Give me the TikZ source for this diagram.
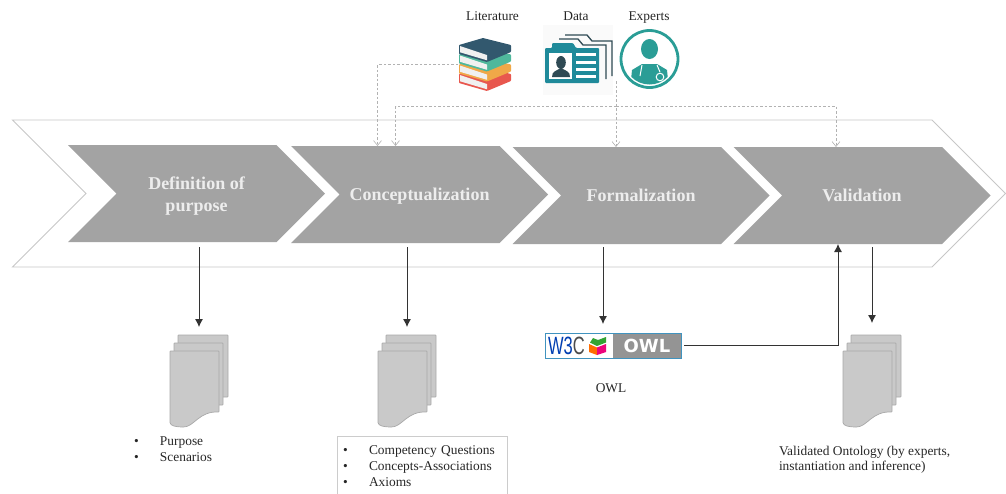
\documentclass[tikz,border=0pt]{standalone}
\usepackage{fontspec}
\setmainfont{Liberation Serif}
\newfontfamily\owlfont{DejaVu Sans}
\newfontfamily\wfont{Liberation Sans}
\usetikzlibrary{shapes,shapes.symbols,arrows.meta,calc}
\definecolor{procgray}{HTML}{A3A3A3}
\definecolor{sheetgray}{HTML}{C9C9C9}
\definecolor{sheetline}{HTML}{A8A8A8}
\definecolor{tealdark}{HTML}{1F8A9A}
\definecolor{tealdoc}{HTML}{2A9D96}
\definecolor{slate}{HTML}{2F4A54}
\definecolor{bookdark}{HTML}{32586E}
\definecolor{bookteal}{HTML}{4FB89C}
\definecolor{bookorange}{HTML}{F0A848}
\definecolor{bookred}{HTML}{E8574E}
\tikzset{
	base_n/.style = {inner sep=0pt, outer sep=0pt, align=center, font=\fontsize{13.4}{16}\selectfont, text=black!85},
	chev_n/.style = {base_n, signal, signal to=east, signal from=west, signal pointer angle=90},
	proc_n/.style = {chev_n, fill=procgray, minimum width=257pt, minimum height=97pt, text=white!93!black, text height=14pt, text depth=3pt, font=\fontsize{18}{22}\selectfont\bfseries},
	list_n/.style = {base_n, align=left},
	doc_n/.style = {base_n, minimum width=58pt, minimum height=92pt},
	icon_n/.style = {base_n},
	sheet/.style = {fill=sheetgray, draw=sheetline, line width=.7pt, rounded corners=.6pt},
	flow/.style = {draw=black!80, line width=.8pt, -{Latex[length=8pt,width=8pt]}},
	feed/.style = {draw=black!30, line width=.6pt, dash pattern=on 2.5pt off 2pt},
	feed_a/.style = {feed, -{Straight Barb[length=5pt,width=8pt,line width=.6pt]}},
	doc_stack/.pic = {
		\path[sheet] (-21,-46) rectangle (29,16);
		\path[sheet] (-25,-38) rectangle (24,24);
		\path[sheet] (-29,-30) -- (20,-30) -- (20,31) .. controls (0,30) and (-5,46) .. (-16,46)
			.. controls (-22,46) and (-29,45) .. (-29,41) -- cycle;
	},
	book/.pic = {
		\fill[#1, rounded corners=.8pt] (-26,-19.5) -- (-2,-26.5) -- (26,-19.5) -- (26,-12.5) -- (2,-2.5) -- (-26,-10.5) -- cycle;
		\fill[white!94!black] (-25,-18.5) -- (2,-9.5) -- (2,-4.2) -- (-25,-12.2) -- cycle;
	}
}
\newcommand{\listitem}[1]{\makebox[26pt][l]{\textbullet}#1}

\begin{document}
\begin{tikzpicture}[x=1pt,y=-1pt]
	\useasboundingbox (0,0) rectangle (1006,493);

	% process band
	\node [chev_n, draw=black!22, line width=.9pt, minimum width=993pt, minimum height=147pt] (band) at (509,193.5) {};
	\node [proc_n, text height=38pt] (purpose) at (196.5,193.5) {Definition of\\purpose};
	\node [proc_n] (concept) at (419.5,194.5) {Conceptualization};
	\node [proc_n] (formal) at (641,195.5) {Formalization};
	\node [proc_n] (valid) at (862,195.5) {Validation};

	% sources
	\node [base_n, anchor=base] (lit_txt) at (492.5,20) {Literature};
	\node [base_n, anchor=base] (data_txt) at (576,20) {Data};
	\node [base_n, anchor=base] (exp_txt) at (649,20) {Experts};

	\node [icon_n, minimum width=54pt, minimum height=53pt] (books) at (485,64.5) {};
	\foreach \off/\col in {29/bookred, 19.5/bookorange, 9.5/bookteal, 0/bookdark}
		\pic at ($(books)+(0,\off)$) {book=\col};

	\node [icon_n, fill=black!2, minimum width=70pt, minimum height=70pt] (data) at (578,60) {};
	\draw[slate, line width=1.3pt] (565,35) -- (587,35) -- (592,41) -- (612,41) -- (612,76);
	\draw[slate, line width=1.3pt] (559,39) -- (578,39) -- (583,45) -- (606,45) -- (606,79);
	\fill[tealdark, rounded corners=1pt] (545,48) -- (552,48) -- (552,43) -- (573,43) -- (576,48) -- (599,48) -- (599,83) -- (545,83) -- cycle;
	\fill[white] (549,53) rectangle (572,79);
	\fill[slate] (561,62.5) ellipse (4.8pt and 6.5pt);
	\fill[slate] (552,77) .. controls (552,71) and (556,71) .. (561,68) .. controls (566,71) and (570,71) .. (570,77) -- cycle;
	\foreach \ln in {53,60.5,68,75}
		\fill[white] (576,\ln) rectangle (596,\ln+3.2);

	\node [icon_n, circle, draw=tealdoc, fill=white, line width=2.8pt, minimum size=57pt] (experts) at (649.5,59) {};
	\begin{scope}
		\clip (649.5,59) circle (25.5pt);
		\fill[tealdoc] (649.5,49) ellipse (8.5pt and 10pt);
		\fill[tealdoc] (630,90) -- (632,70) -- (642,64) -- (657,64) -- (667,70) -- (669,90) -- cycle;
		\draw[white, line width=1pt] (642,65) -- (640,76) (657,65) -- (660,72);
		\draw[white, line width=1pt] (660,77) circle (3.8pt);
	\end{scope}
	\coordinate (data_out) at (616,81);
	\coordinate (fork) at (616,106);

	\draw[feed_a] (books.west) -| ([xshift=-42pt]concept.north);
	\draw[feed_a] (data_out) -- (formal.north -| data_out);
	\draw[feed_a] (fork) -| ([xshift=-24pt]concept.north);
	\draw[feed_a] (fork) -| ([xshift=-26pt]valid.north);

	% outputs
	\node [doc_n] (doc_a) at (199,381) {};
	\node [doc_n] (doc_b) at (407,381) {};
	\node [doc_n] (doc_c) at (872,381) {};
	\foreach \dc in {doc_a,doc_b,doc_c}
		\pic at (\dc) {doc_stack};

	\node [list_n, anchor=north west] (list_a) at (134,436.5) {\listitem{Purpose}\\\listitem{Scenarios}};
	\node [list_n, anchor=north west, draw=black!20, line width=.7pt, text width=170pt, minimum height=60pt] (list_b) at (337,436) {\hspace*{6pt}\listitem{Competency Questions}\\\hspace*{6pt}\listitem{Concepts-Associations}\\\hspace*{6pt}\listitem{Axioms}};
	\node [list_n, anchor=north west, font=\fontsize{13.4}{15}\selectfont] (list_c) at (779,446) {Validated Ontology (by experts,\\instantiation and inference)};

	\node [base_n, draw=blue!35!cyan!50!gray, fill=white, line width=1pt, minimum width=136pt, minimum height=25pt] (owl_logo) at (613,345.5) {};
	\node [base_n, fill=black!42, minimum width=67.5pt, minimum height=24pt, text=white, font=\owlfont\bfseries\fontsize{18}{18}\selectfont] (owl_tag) at (647,345.5) {OWL};
	\node [base_n, anchor=west, text=blue!65!cyan!70!black, font=\wfont\fontsize{25}{25}\selectfont] (owl_w) at (548,345.5) {\scalebox{.66}[1]{W3\textcolor{black!70}{C}}};
	\fill[orange!85!red] (589,344) -- (597,347.5) -- (597,355) -- (589,352) -- cycle;
	\fill[magenta!85!red] (597,347.5) -- (606,344) -- (606,352) -- (597,355) -- cycle;
	\fill[green!55!black!80!white] (590,342.5) -- (597,346) -- (606,342.5) -- (606,337) -- (598,340) -- (593,338) -- cycle;
	\node [base_n] (owl_txt) at (611,388) {OWL};

	\draw[flow, shorten <=5pt, shorten >=8pt] (doc_a |- purpose.south) -- (doc_a.north);
	\draw[flow, shorten <=4pt, shorten >=8pt] (doc_b |- concept.south) -- (doc_b.north);
	\draw[flow, shorten <=3pt, shorten >=9pt] ([xshift=-38pt]formal.south) -- ([xshift=-10pt]owl_logo.north);
	\draw[flow, shorten <=3pt, shorten >=12pt] (doc_c |- valid.south) -- (doc_c.north);
	\draw[flow, shorten <=3pt] (owl_logo.east) -| ([xshift=-24pt]valid.south);
\end{tikzpicture}
\end{document}
